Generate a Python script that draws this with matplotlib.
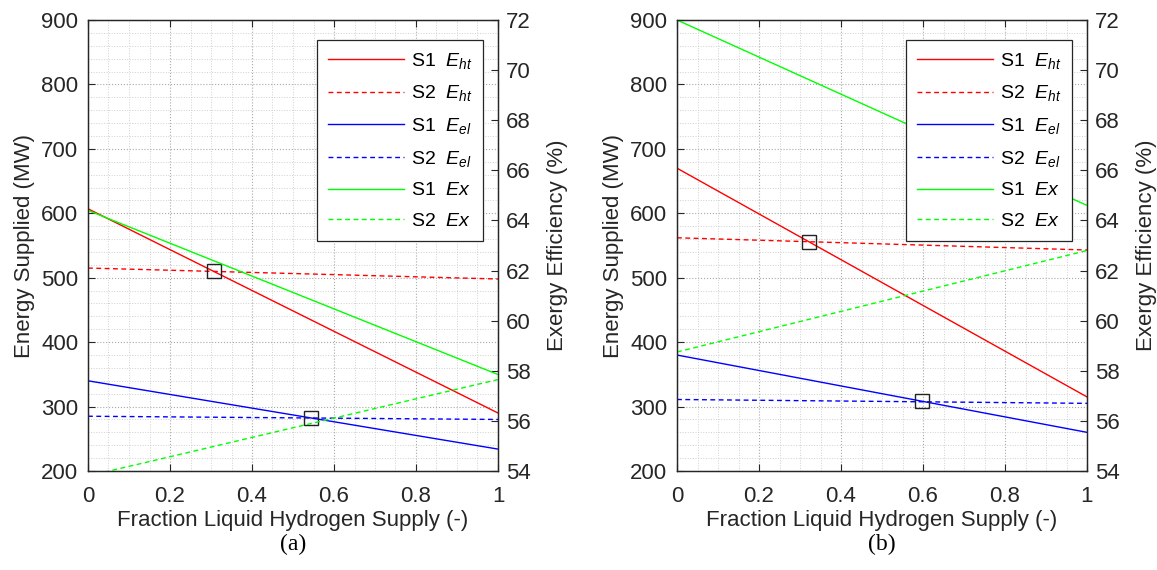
#!/usr/bin/python

import numpy as np
import matplotlib
matplotlib.use("Agg")
import matplotlib.pyplot as plt
from matplotlib.ticker import MultipleLocator, FormatStrFormatter

plt.rcParams['font.family'] = ['Liberation Sans', 'DejaVu Sans']
plt.rcParams['mathtext.fontset'] = 'custom'
plt.rcParams['mathtext.it'] = 'Liberation Sans:italic'
plt.rcParams['mathtext.rm'] = 'Liberation Sans'

# fraction of liquid hydrogen supply (end points of each line)
frac = [0.0, 1.0]

# panel (a)
a_s1_ht = [607, 290]
a_s2_ht = [515, 498]
a_s1_el = [340, 234]
a_s2_el = [285, 280]
a_s1_ex = [64.4, 57.85]
a_s2_ex = [53.8, 57.65]
a_cross_x = [0.307, 0.545]
a_cross_y = [510, 282]

# panel (b)
b_s1_ht = [670, 315]
b_s2_ht = [562, 543]
b_s1_el = [380, 260]
b_s2_el = [311, 305]
b_s1_ex = [72.0, 64.6]
b_s2_ex = [58.75, 62.8]
b_cross_x = [0.322, 0.598]
b_cross_y = [555, 308]

labels = ["S1  $E_{ht}$", "S2  $E_{ht}$", "S1  $E_{el}$",
          "S2  $E_{el}$", "S1  $Ex$", "S2  $Ex$"]

TXT = '#262626'


def draw_panel(ax, s1_ht, s2_ht, s1_el, s2_el, s1_ex, s2_ex, cx, cy, tag):
    """Draw one panel: energy on the left axis, exergy on the right."""
    lw = 1.0
    dash = (3.5, 2.5)
    l1, = ax.plot(frac, s1_ht, color='#ff0000', lw=lw)
    l2, = ax.plot(frac, s2_ht, color='#ff0000', lw=lw, ls='--', dashes=dash)
    l3, = ax.plot(frac, s1_el, color='#0000ff', lw=lw)
    l4, = ax.plot(frac, s2_el, color='#0000ff', lw=lw, ls='--', dashes=dash)
    ax.plot(cx, cy, ls='none', marker='s', ms=10, mfc='none', mec='#222222',
            mew=1.0, zorder=5)

    ax.set_xlim(0, 1)
    ax.set_ylim(200, 900)
    ax.xaxis.set_major_locator(MultipleLocator(0.2))
    ax.xaxis.set_minor_locator(MultipleLocator(0.05))
    ax.yaxis.set_major_locator(MultipleLocator(100))
    ax.yaxis.set_minor_locator(MultipleLocator(20))
    ax.xaxis.set_major_formatter(FormatStrFormatter('%g'))
    ax.grid(which='major', ls=':', color='#a8a8a8', lw=0.8)
    ax.grid(which='minor', ls=':', color='#d0d0d0', lw=0.7)
    ax.tick_params(which='both', direction='in', top=True, right=False,
                   labelsize=16, colors=TXT)
    ax.tick_params(axis='x', pad=11)
    ax.tick_params(axis='y', pad=7)
    ax.tick_params(which='major', length=5)
    ax.tick_params(which='minor', length=0)

    ax.set_xlabel("Fraction Liquid Hydrogen Supply (-)", fontsize=16, color=TXT)
    ax.xaxis.set_label_coords(0.5, -0.109)
    ax.xaxis.label.set_va('center')
    ax.set_ylabel("Energy Supplied (MW)", fontsize=16, color=TXT)
    ax.yaxis.set_label_coords(-0.154, 0.5)
    ax.yaxis.label.set_va('center')

    ax2 = ax.twinx()
    l5, = ax2.plot(frac, s1_ex, color='#00ff00', lw=lw)
    l6, = ax2.plot(frac, s2_ex, color='#00ff00', lw=lw, ls='--', dashes=dash)
    ax2.set_ylim(54, 72)
    ax2.yaxis.set_major_locator(MultipleLocator(2))
    ax2.tick_params(direction='in', labelsize=16, colors=TXT, length=5, pad=6)
    ax2.set_ylabel("Exergy Efficiency (%)", fontsize=16, color=TXT)
    ax2.yaxis.set_label_coords(1.144, 0.5)
    ax2.yaxis.label.set_va('center')

    for a in (ax, ax2):
        for s in a.spines.values():
            s.set_color(TXT)
            s.set_linewidth(0.9)

    leg = ax2.legend([l1, l2, l3, l4, l5, l6], labels, loc='upper right',
                     bbox_to_anchor=(0.963, 0.956), borderaxespad=0,
                     fontsize=14, fancybox=False, framealpha=1,
                     edgecolor=TXT, handlelength=3.9, labelspacing=0.66,
                     borderpad=0.55, handletextpad=0.35)
    leg.get_frame().set_linewidth(0.9)

    ax.text(0.5, -0.162, tag, transform=ax.transAxes, ha='center', va='center',
            fontsize=17, family='Liberation Serif')


fig = plt.figure(figsize=(11.57, 5.70), dpi=100)
ax_a = fig.add_axes([88 / 1157, 99 / 570, 410 / 1157, 451 / 570])
ax_b = fig.add_axes([677 / 1157, 99 / 570, 410 / 1157, 451 / 570])

draw_panel(ax_a, a_s1_ht, a_s2_ht, a_s1_el, a_s2_el, a_s1_ex, a_s2_ex,
           a_cross_x, a_cross_y, "(a)")
draw_panel(ax_b, b_s1_ht, b_s2_ht, b_s1_el, b_s2_el, b_s1_ex, b_s2_ex,
           b_cross_x, b_cross_y, "(b)")

fig.savefig("out.png", dpi=100)
